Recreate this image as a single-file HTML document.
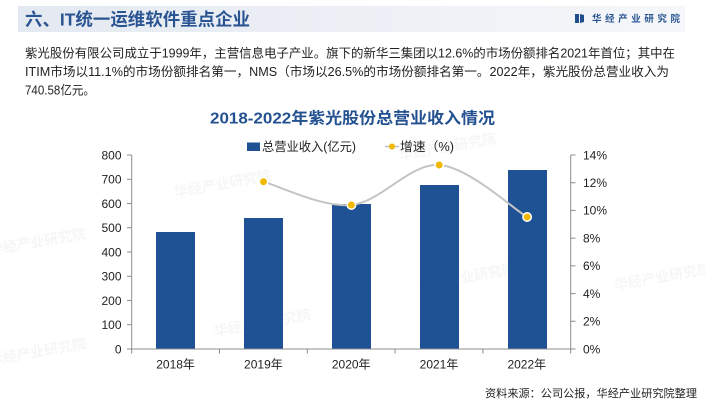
<!DOCTYPE html>
<html><head><meta charset="utf-8">
<style>
html,body{margin:0;padding:0;background:#fff;}
svg{display:block;}
text{font-family:"Liberation Sans","Noto Sans CJK SC",sans-serif;}
</style></head>
<body>
<svg width="705" height="400" viewBox="0 0 705 400" xmlns="http://www.w3.org/2000/svg">
<defs>
<linearGradient id="hb" x1="0" y1="0" x2="1" y2="0">
<stop offset="0" stop-color="#e4e9f1"/>
<stop offset="0.6" stop-color="#eef1f6"/>
<stop offset="1" stop-color="#f5f7fa"/>
</linearGradient>
</defs>
<!-- header band -->
<rect x="18" y="6" width="667" height="26" fill="url(#hb)"/>
<text x="25" y="25.5" font-size="17.5" font-weight="bold" fill="#2a5592" textLength="225" lengthAdjust="spacingAndGlyphs">六、IT统一运维软件重点企业</text>
<!-- logo -->
<rect x="575" y="14" width="4" height="9" fill="#1f4e8c"/>
<polygon points="580,14 584,15 584,22 580,23" fill="#1f4e8c"/>
<text x="592" y="22" font-size="9.5" font-weight="bold" fill="#2a5592" textLength="88" lengthAdjust="spacing">华经产业研究院</text>

<!-- paragraph -->
<text x="25" y="57.5" font-size="12.6" fill="#222" textLength="650" lengthAdjust="spacingAndGlyphs">紫光股份有限公司成立于1999年，主营信息电子产业。旗下的新华三集团以12.6%的市场份额排名2021年首位；其中在</text>
<text x="25" y="76.2" font-size="12.6" fill="#222" textLength="644" lengthAdjust="spacingAndGlyphs">ITIM市场以11.1%的市场份额排名第一，NMS（市场以26.5%的市场份额排名第一。2022年，紫光股份总营业收入为</text>
<text x="25" y="94.5" font-size="12.6" fill="#222" textLength="70" lengthAdjust="spacingAndGlyphs">740.58亿元。</text>

<!-- watermarks -->
<g opacity="0.4">
<text x="175" y="197" font-size="14" font-weight="bold" fill="#e6e9ee" transform="rotate(-10 175 197)">华经产业研究院</text>
<text x="215" y="336" font-size="14" font-weight="bold" fill="#e6e9ee" transform="rotate(-10 215 336)">华经产业研究院</text>
<text x="400" y="160" font-size="14" font-weight="bold" fill="#e6e9ee" transform="rotate(-10 400 160)">华经产业研究院</text>
<text x="420" y="290" font-size="14" font-weight="bold" fill="#e6e9ee" transform="rotate(-10 420 290)">华经产业研究院</text>
<text x="615" y="290" font-size="14" font-weight="bold" fill="#e6e9ee" transform="rotate(-10 615 290)">华经产业研究院</text>
<text x="-10" y="255" font-size="14" font-weight="bold" fill="#e6e9ee" transform="rotate(-10 -10 255)">华经产业研究院</text>
<text x="-10" y="365" font-size="14" font-weight="bold" fill="#e6e9ee" transform="rotate(-10 -10 365)">华经产业研究院</text>
</g>

<!-- chart title -->
<text x="352.5" y="123.5" font-size="16" font-weight="bold" fill="#245190" text-anchor="middle" textLength="285" lengthAdjust="spacingAndGlyphs">2018-2022年紫光股份总营业收入情况</text>

<!-- legend -->
<rect x="247" y="142.5" width="13" height="8.5" fill="#1f5294"/>
<text x="262" y="151" font-size="12.5" fill="#222" textLength="94" lengthAdjust="spacingAndGlyphs">总营业收入(亿元)</text>
<line x1="385" y1="146.5" x2="399" y2="146.5" stroke="#bfbfbf" stroke-width="1.5"/>
<circle cx="392" cy="146.5" r="3" fill="#f0b800"/>
<text x="400" y="151" font-size="12.5" fill="#222" textLength="54" lengthAdjust="spacingAndGlyphs">增速（%)</text>

<!-- bars -->
<g fill="#1f5294">
<rect x="156" y="232" width="39" height="117"/>
<rect x="244" y="218" width="39" height="131"/>
<rect x="332" y="204" width="39" height="145"/>
<rect x="420" y="185" width="39" height="164"/>
<rect x="508" y="170" width="39" height="179"/>
</g>

<!-- axes -->
<g stroke="#8c8c8c" stroke-width="1" fill="none">
<line x1="131.7" y1="155" x2="131.7" y2="349"/>
<line x1="570.7" y1="155" x2="570.7" y2="349"/>
<line x1="131.7" y1="349" x2="570.7" y2="349"/>
<path d="M127 155H131.7M127 179.25H131.7M127 203.5H131.7M127 227.75H131.7M127 252H131.7M127 276.25H131.7M127 300.5H131.7M127 324.75H131.7M127 349H131.7"/>
<path d="M570.7 155H575.5M570.7 182.7H575.5M570.7 210.4H575.5M570.7 238.1H575.5M570.7 265.9H575.5M570.7 293.6H575.5M570.7 321.3H575.5M570.7 349H575.5"/>
<path d="M131.7 349V353.5M219.5 349V353.5M307.3 349V353.5M395.1 349V353.5M482.9 349V353.5M570.7 349V353.5"/>
</g>

<!-- left labels -->
<g font-size="12" fill="#222" text-anchor="end">
<text x="121.5" y="159.3">800</text>
<text x="121.5" y="183.5">700</text>
<text x="121.5" y="207.8">600</text>
<text x="121.5" y="232">500</text>
<text x="121.5" y="256.3">400</text>
<text x="121.5" y="280.5">300</text>
<text x="121.5" y="304.8">200</text>
<text x="121.5" y="329">100</text>
<text x="121.5" y="353.3">0</text>
</g>
<!-- right labels -->
<g font-size="12" fill="#222">
<text x="583" y="159.3">14%</text>
<text x="583" y="187">12%</text>
<text x="583" y="214.7">10%</text>
<text x="583" y="242.4">8%</text>
<text x="583" y="270.2">6%</text>
<text x="583" y="297.9">4%</text>
<text x="583" y="325.6">2%</text>
<text x="583" y="353.3">0%</text>
</g>
<!-- x labels -->
<g font-size="12" fill="#222" text-anchor="middle">
<text x="175.6" y="368.5">2018年</text>
<text x="263.4" y="368.5">2019年</text>
<text x="351.2" y="368.5">2020年</text>
<text x="439" y="368.5">2021年</text>
<text x="526.8" y="368.5">2022年</text>
</g>

<!-- growth line -->
<path d="M263.5 181.7C278.15 185.58 322.12 207.78 351.4 205C380.68 202.22 409.92 163 439.2 165C468.48 167 512.45 208.33 527.1 217" fill="none" stroke="#c4c4c4" stroke-width="2"/>
<g fill="#f0b800" stroke="#fff" stroke-width="1.5">
<circle cx="263.5" cy="181.7" r="4.2"/>
<circle cx="351.4" cy="205" r="4.2"/>
<circle cx="439.2" cy="165" r="4.2"/>
<circle cx="527.1" cy="217" r="4.2"/>
</g>

<!-- source -->
<text x="485" y="397" font-size="11" fill="#222" textLength="212" lengthAdjust="spacingAndGlyphs">资料来源：公司公报，华经产业研究院整理</text>
</svg>
</body></html>
